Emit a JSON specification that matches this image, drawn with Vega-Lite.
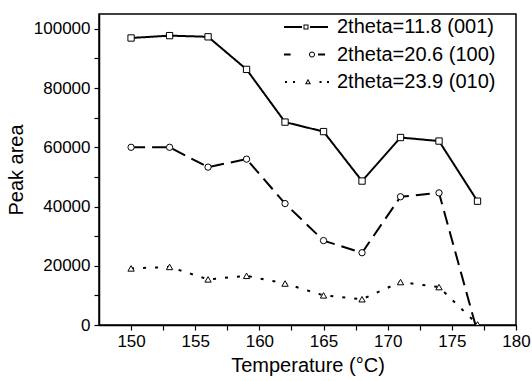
{
  "$schema": "https://vega.github.io/schema/vega-lite/v6.json",
  "width": 417,
  "height": 311,
  "autosize": {"type": "none"},
  "padding": {"left": 99, "top": 14, "right": 16, "bottom": 56},
  "background": "white",
  "config": {
    "view": {"stroke": "black", "strokeWidth": 1.5},
    "font": "Liberation Sans",
    "axis": {
      "grid": false,
      "domainColor": "black",
      "domainWidth": 1.5,
      "tickColor": "black",
      "tickWidth": 1.2,
      "tickSize": 5,
      "labelFont": "Liberation Sans",
      "labelFontSize": 17,
      "labelColor": "black",
      "titleFont": "Liberation Sans",
      "titleFontSize": 20,
      "titleFontWeight": "normal",
      "titleColor": "black",
      "labelOverlap": false,
      "labelFlush": false
    }
  },
  "data": {
    "values": [
      {"T": 150, "series": "2theta=11.8 (001)", "area": 96900},
      {"T": 153, "series": "2theta=11.8 (001)", "area": 97700},
      {"T": 156, "series": "2theta=11.8 (001)", "area": 97300},
      {"T": 159, "series": "2theta=11.8 (001)", "area": 86300},
      {"T": 162, "series": "2theta=11.8 (001)", "area": 68500},
      {"T": 165, "series": "2theta=11.8 (001)", "area": 65300},
      {"T": 168, "series": "2theta=11.8 (001)", "area": 48600},
      {"T": 171, "series": "2theta=11.8 (001)", "area": 63300},
      {"T": 174, "series": "2theta=11.8 (001)", "area": 62100},
      {"T": 177, "series": "2theta=11.8 (001)", "area": 41800},
      {"T": 150, "series": "2theta=20.6 (100)", "area": 60000},
      {"T": 153, "series": "2theta=20.6 (100)", "area": 60000},
      {"T": 156, "series": "2theta=20.6 (100)", "area": 53300},
      {"T": 159, "series": "2theta=20.6 (100)", "area": 56000},
      {"T": 162, "series": "2theta=20.6 (100)", "area": 41000},
      {"T": 165, "series": "2theta=20.6 (100)", "area": 28500},
      {"T": 168, "series": "2theta=20.6 (100)", "area": 24400},
      {"T": 171, "series": "2theta=20.6 (100)", "area": 43300},
      {"T": 174, "series": "2theta=20.6 (100)", "area": 44600},
      {"T": 177, "series": "2theta=20.6 (100)", "area": -2500},
      {"T": 150, "series": "2theta=23.9 (010)", "area": 19100},
      {"T": 153, "series": "2theta=23.9 (010)", "area": 19600},
      {"T": 156, "series": "2theta=23.9 (010)", "area": 15400},
      {"T": 159, "series": "2theta=23.9 (010)", "area": 16600},
      {"T": 162, "series": "2theta=23.9 (010)", "area": 14000},
      {"T": 165, "series": "2theta=23.9 (010)", "area": 10000},
      {"T": 168, "series": "2theta=23.9 (010)", "area": 8700},
      {"T": 171, "series": "2theta=23.9 (010)", "area": 14500},
      {"T": 174, "series": "2theta=23.9 (010)", "area": 12800},
      {"T": 177, "series": "2theta=23.9 (010)", "area": 200}
    ]
  },
  "encoding": {
    "x": {
      "field": "T",
      "type": "quantitative",
      "scale": {"domain": [147.5, 180], "nice": false, "zero": false},
      "axis": {
        "title": "Temperature (°C)",
        "values": [150, 152.5, 155, 157.5, 160, 162.5, 165, 167.5, 170, 172.5, 175, 177.5, 180],
        "labelExpr": "datum.value % 5 === 0 ? datum.label : ''",
        "labelPadding": 3,
        "titlePadding": 6
      }
    },
    "y": {
      "field": "area",
      "type": "quantitative",
      "scale": {"domain": [0, 105000], "nice": false},
      "axis": {
        "title": "Peak area",
        "format": "d",
        "values": [0, 10000, 20000, 30000, 40000, 50000, 60000, 70000, 80000, 90000, 100000],
        "labelExpr": "datum.value % 20000 === 0 ? datum.label : ''",
        "labelPadding": 4,
        "titlePadding": 7
      }
    }
  },
  "resolve": {"scale": {"shape": "independent"}, "legend": {"shape": "independent"}},
  "layer": [
    {
      "mark": {"type": "line", "color": "black", "strokeWidth": 2, "clip": true},
      "encoding": {
        "strokeDash": {
          "field": "series",
          "type": "nominal",
          "scale": {
            "domain": ["2theta=11.8 (001)", "2theta=20.6 (100)", "2theta=23.9 (010)"],
            "range": [[1, 0], [14, 7], [3, 9]]
          },
          "legend": null
        }
      }
    },
    {
      "mark": {"type": "point", "filled": true, "fill": "white", "stroke": "black", "strokeWidth": 1, "size": 40, "opacity": 1, "clip": true},
      "encoding": {
        "shape": {
          "field": "series",
          "type": "nominal",
          "scale": {
            "domain": ["2theta=11.8 (001)", "2theta=20.6 (100)", "2theta=23.9 (010)"],
            "range": ["square", "circle", "triangle-up"]
          },
          "legend": null
        }
      }
    },
    {
      "transform": [{"filter": "datum.T > 1000"}],
      "mark": {"type": "point", "filled": true, "color": "black", "size": 100, "opacity": 1},
      "encoding": {
        "shape": {
          "field": "series",
          "type": "nominal",
          "scale": {
            "domain": ["2theta=11.8 (001)", "2theta=20.6 (100)", "2theta=23.9 (010)"],
            "range": [
              "M-1.8,-0.2H1.8V0.2H-1.8Z M3.4,-0.2H7V0.2H3.4Z M2.1,-0.5H3.1V0.5H2.1Z M2.3,-0.3V0.3H2.9V-0.3Z",
              "M-1.8,-0.2H-0.48V0.2H-1.8Z M5,-0.2H6.4V0.2H5Z M4.4,0 A0.6,0.6 0 1,1 3.2,0 A0.6,0.6 0 1,1 4.4,0 Z M4.2,0 A0.4,0.4 0 1,0 3.4,0 A0.4,0.4 0 1,0 4.2,0 Z",
              "M-1.6,-0.2H-1.2V0.2H-1.6Z M0,-0.2H0.4V0.2H0Z M5.3,-0.2H5.7V0.2H5.3Z M6.8,-0.2H7.2V0.2H6.8Z M3,-0.64 L3.6,0.44 L2.4,0.44 Z M3,-0.228 L2.74,0.24 L3.26,0.24 Z"
            ]
          },
          "legend": {
            "title": null,
            "orient": "none",
            "legendX": 184,
            "legendY": 3,
            "padding": 0,
            "symbolSize": 100,
            "symbolStrokeWidth": 0,
            "symbolFillColor": "black",
            "symbolOpacity": 1,
            "labelOffset": 34,
            "labelFontSize": 20,
            "labelFont": "Liberation Sans",
            "labelColor": "black",
            "rowPadding": 7.5
          }
        }
      }
    }
  ]
}
